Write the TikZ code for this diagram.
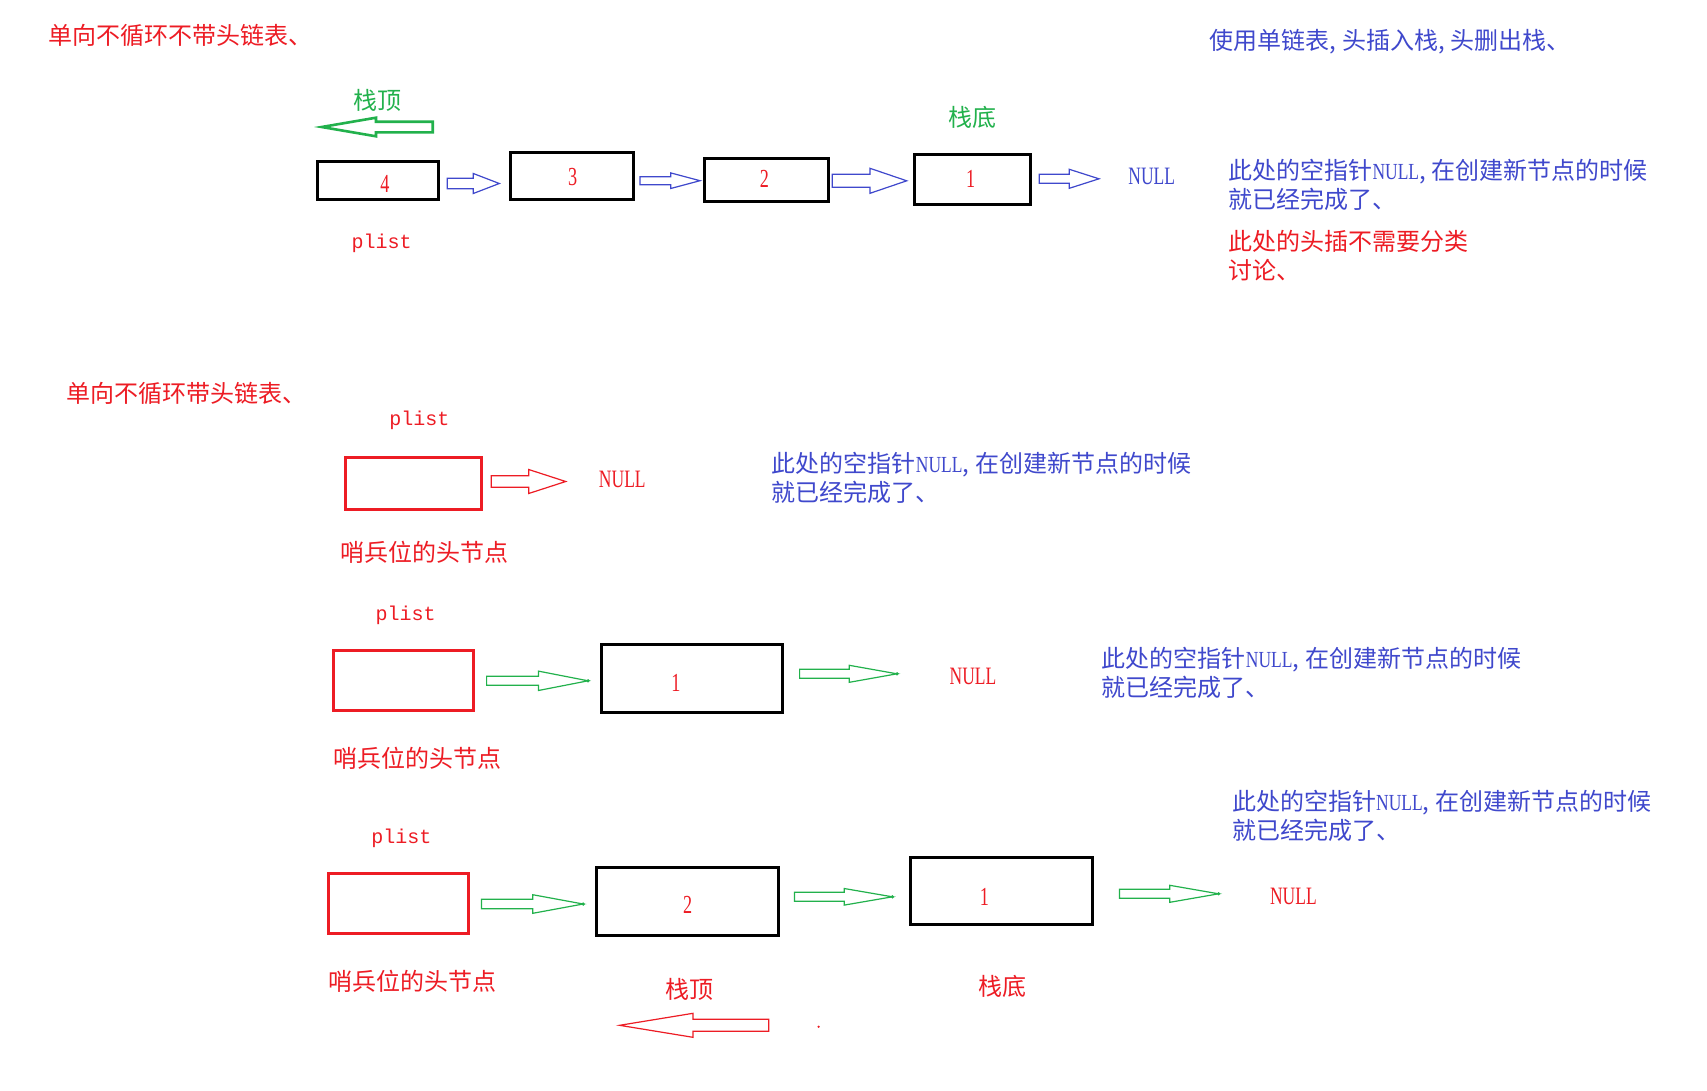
\documentclass[tikz,border=0pt]{standalone}
\usepackage{fontspec}
\setmainfont{Liberation Serif}
\newfontfamily\cjk{Noto Sans CJK SC}
\newfontfamily\monof{Liberation Mono}
\newfontfamily\nullf[FakeStretch=0.7]{Liberation Serif}
\newfontfamily\nnullf[FakeStretch=0.76]{Liberation Serif}
\definecolor{pred}{HTML}{ED1C24}
\definecolor{pblue}{HTML}{3F48CC}
\definecolor{pgreen}{HTML}{22B14C}
% block arrow: [style]{x0}{head base x}{tip x}{y}{shaft half}{head half}
\newcommand{\blk}[7][]{\draw[#1] ({#2},{#5-#6}) -- ({#3},{#5-#6}) -- ({#3},{#5-#7}) -- ({#4},{#5}) -- ({#3},{#5+#7}) -- ({#3},{#5+#6}) -- ({#2},{#5+#6}) -- cycle;}
\tikzset{
  box/.style={draw=black, line width=3pt, inner sep=0pt, outer sep=0pt},
  hbox/.style={draw=pred, line width=3pt, inner sep=0pt, outer sep=0pt},
  cn/.style={font=\cjk\fontsize{24}{29}\selectfont, inner sep=0pt, align=left},
  num/.style={font=\nullf\fontsize{26}{30}\selectfont, text=pred, inner sep=0pt},
  nullt/.style={font=\nullf\fontsize{25}{30}\selectfont, inner sep=0pt},
  pl/.style={font=\monof\fontsize{20}{24}\selectfont, text=pred, inner sep=0pt},
  ab/.style={draw=pblue, line width=1.2pt, line join=miter},
  ag/.style={draw=pgreen, line width=1.2pt},
  agT/.style={draw=pgreen, line width=2.6pt},
  ar/.style={draw=pred, line width=1.2pt}
}
\newcommand{\nulln}{{\nnullf\fontsize{23}{29}\selectfont NULL}}
\newcommand{\cm}{,\kern6pt}
\begin{document}
\begin{tikzpicture}[x=1pt,y=-1pt]
\useasboundingbox (0,0) rectangle (1707,1090);
\fill[white] (0,0) rectangle (1707,1090);

% ---------- section 1 ----------
\node[cn, text=pred, anchor=west] (t1) at (48.3,35) {单向不循环不带头链表、};
\node[cn, text=pblue, anchor=west] (t2) at (1209.3,41.7) {使用单链表\cm 头插入栈\cm 头删出栈、};
\node[cn, text=pgreen] (top1) at (377,100.7) {栈顶};
\node[cn, text=pgreen] (bot1) at (972.7,117.3) {栈底};
\blk[agT]{432.7}{376}{321.7}{127}{5.3}{9.3}

\node[box, minimum width=121pt, minimum height=38pt] (b4) at (378.35,180.7) {};
\node[num] (n4) at (385,184) {4};
\node[box, minimum width=123pt, minimum height=47pt] (b3) at (571.5,175.9) {};
\node[num] (n3) at (572.7,177.3) {3};
\node[box, minimum width=124pt, minimum height=43pt] (b2) at (766.4,180) {};
\node[num] (n2) at (764.3,179.3) {2};
\node[box, minimum width=116pt, minimum height=50pt] (b1) at (972.65,179.5) {};
\node[num] (n1) at (970.7,179.3) {1};

\blk[ab]{447.3}{473.3}{499.3}{183.5}{5.2}{10}
\blk[ab]{640}{670.7}{700}{180.7}{4}{7.8}
\blk[ab]{832.3}{870}{906.7}{180.8}{6.5}{12.5}
\blk[ab]{1039.3}{1069.3}{1099}{178.8}{4.5}{9.5}

\node[nullt, text=pblue] (null1) at (1151.7,176) {NULL};
\node[pl] (pl1) at (381.7,243.3) {plist};
\node[cn, text=pblue, anchor=west] (note1) at (1228.3,184.7) {此处的空指针\nulln\cm 在创建新节点的时候\\就已经完成了、};
\node[cn, text=pred, anchor=west] (note1b) at (1228.3,255.9) {此处的头插不需要分类\\讨论、};

% ---------- section 2 ----------
\node[cn, text=pred, anchor=west] (t3) at (66,393.3) {单向不循环带头链表、};
\node[pl] (pl2) at (419.3,420) {plist};
\node[hbox, minimum width=136pt, minimum height=52pt] (h2) at (413,483.3) {};
\blk[ar]{491.3}{528.7}{565.7}{481.5}{5.8}{12}
\node[nullt, text=pred] (null2) at (622.3,479.3) {NULL};
\node[cn, text=pblue, anchor=west] (note2) at (771.7,477.5) {此处的空指针\nulln\cm 在创建新节点的时候\\就已经完成了、};
\node[cn, text=pred, anchor=west] (s2) at (340,552.7) {哨兵位的头节点};

% ---------- section 3 ----------
\node[pl] (pl3) at (405.7,615) {plist};
\node[hbox, minimum width=140pt, minimum height=60pt] (h3) at (403.2,680.85) {};
\blk[ag]{486.6}{538.4}{588.1}{680.8}{4.5}{9.7}
\fill[pgreen] (588.1,680.8) circle (1.8pt);
\node[box, minimum width=181pt, minimum height=68pt] (c1) at (692.4,678.65) {};
\node[num] (m1) at (676,683.3) {1};
\blk[ag]{799.6}{849.3}{897}{673.8}{4.5}{8.5}
\fill[pgreen] (897,673.8) circle (1.8pt);
\node[nullt, text=pred] (null3) at (973,676.7) {NULL};
\node[cn, text=pblue, anchor=west] (note3) at (1101.7,672.5) {此处的空指针\nulln\cm 在创建新节点的时候\\就已经完成了、};
\node[cn, text=pred, anchor=west] (s3) at (333,758.5) {哨兵位的头节点};

% ---------- section 4 ----------
\node[cn, text=pblue, anchor=west] (note4) at (1232,815.5) {此处的空指针\nulln\cm 在创建新节点的时候\\就已经完成了、};
\node[pl] (pl4) at (401.4,838.3) {plist};
\node[hbox, minimum width=140pt, minimum height=60pt] (h4) at (398.55,903.85) {};
\blk[ag]{481.4}{532.7}{583.2}{904}{4.7}{9.3}
\fill[pgreen] (583.2,904) circle (1.8pt);
\node[box, minimum width=182pt, minimum height=68pt] (d2) at (687.45,901.7) {};
\node[num] (k2) at (687.7,905) {2};
\blk[ag]{794.5}{844.2}{892.4}{896.8}{4.5}{8.3}
\fill[pgreen] (892.4,896.8) circle (1.8pt);
\node[box, minimum width=182pt, minimum height=67pt] (d1) at (1001.75,891.35) {};
\node[num] (k1) at (984.4,896.7) {1};
\blk[ag]{1119.4}{1169.8}{1218.6}{893.8}{4.5}{8.5}
\fill[pgreen] (1218.6,893.8) circle (1.8pt);
\node[nullt, text=pred] (null4) at (1293.4,896.7) {NULL};
\node[cn, text=pred, anchor=west] (s4) at (328.7,981.7) {哨兵位的头节点};
\node[cn, text=pred] (top2) at (689.6,989.3) {栈顶};
\node[cn, text=pred] (bot2) at (1002.3,986.7) {栈底};
\blk[ar]{768.8}{693}{619.6}{1025.3}{6}{12}
\fill[pred] (818.6,1026.7) circle (1.2pt);
\end{tikzpicture}
\end{document}
